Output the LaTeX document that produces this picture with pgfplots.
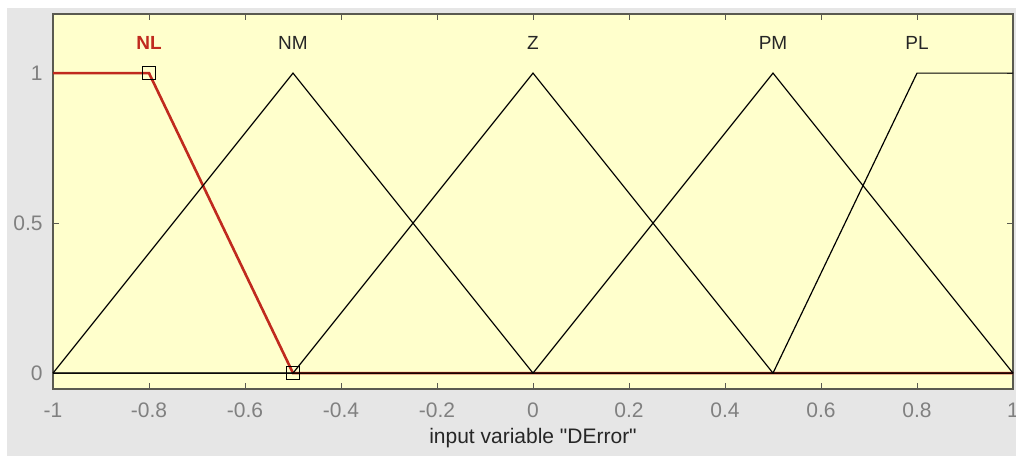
\documentclass[border=0pt]{standalone}
\usepackage{fontspec}
\setmainfont{Liberation Sans}[Ligatures=TeXOff]
\usepackage{pgfplots}
\pgfplotsset{compat=1.18}
\definecolor{figbg}{HTML}{E6E6E6}
\definecolor{axbg}{HTML}{FFFFCC}
\definecolor{tickgray}{HTML}{808080}
\definecolor{axisgray}{HTML}{5A5A50}
\definecolor{nlred}{HTML}{C02A1E}

\begin{document}
\begin{tikzpicture}
% figure background (1 px = 0.5 pt)
\fill[white] (-26.5pt,-33.5pt) rectangle (481.5pt,194.5pt);
\fill[figbg] (-23pt,-33.5pt) rectangle (481.5pt,190.5pt);
\path[use as bounding box] (-26.5pt,-33.5pt) rectangle (481.5pt,194.5pt);
\begin{axis}[
  at={(0,0)}, anchor=south west,
  scale only axis,
  width=480pt, height=187.5pt,
  xmin=-1, xmax=1,
  ymin=-0.053, ymax=1.197,
  axis background/.style={fill=axbg},
  axis line style={axisgray, line width=0.6pt},
  tick style={axisgray, line width=0.5pt},
  major tick length=3pt,
  tick align=inside,
  tick pos=both,
  xtick={-1,-0.8,-0.6,-0.4,-0.2,0,0.2,0.4,0.6,0.8,1},
  xticklabels={-1,-0.8,-0.6,-0.4,-0.2,0,0.2,0.4,0.6,0.8,1},
  ytick={0,0.5,1},
  yticklabels={0,0.5,1},
  tick label style={font=\fontsize{10.5}{12}\selectfont, text=tickgray},
  xticklabel style={anchor=center, yshift=-10.5pt},
  yticklabel style={anchor=east, xshift=-1.7pt},
  xlabel={input variable "DError"},
  xlabel style={at={(axis description cs:0.5,0)}, anchor=center, yshift=-24.5pt,
    font=\fontsize{10.5}{12}\selectfont, text=black!85},
  clip=false,
]
% NL (selected, red)
\addplot[nlred, line width=1.3pt] coordinates {(-1,1) (-0.8,1) (-0.5,0) (1,0)};
% NM
\addplot[black, line width=0.6pt] coordinates {(-1,0) (-0.5,1) (0,0) (1,0)};
% Z
\addplot[black, line width=0.6pt] coordinates {(-1,0) (-0.5,0) (0,1) (0.5,0) (1,0)};
% PM
\addplot[black, line width=0.6pt] coordinates {(-1,0) (0,0) (0.5,1) (1,0)};
% PL
\addplot[black, line width=0.6pt] coordinates {(-1,0) (0.5,0) (0.8,1) (1,1)};
% handles of the selected MF
\addplot[only marks, mark=square, mark size=3.2pt, black, line width=0.6pt]
  coordinates {(-0.8,1) (-0.5,0)};
% MF names
\node[font=\fontsize{9.5}{10}\selectfont\bfseries, text=nlred] at (axis cs:-0.8,1.1) {NL};
\node[font=\fontsize{9.5}{10}\selectfont, text=black!85] at (axis cs:-0.5,1.1) {NM};
\node[font=\fontsize{9.5}{10}\selectfont, text=black!85] at (axis cs:0,1.1) {Z};
\node[font=\fontsize{9.5}{10}\selectfont, text=black!85] at (axis cs:0.5,1.1) {PM};
\node[font=\fontsize{9.5}{10}\selectfont, text=black!85] at (axis cs:0.8,1.1) {PL};
\end{axis}
\end{tikzpicture}
\end{document}
